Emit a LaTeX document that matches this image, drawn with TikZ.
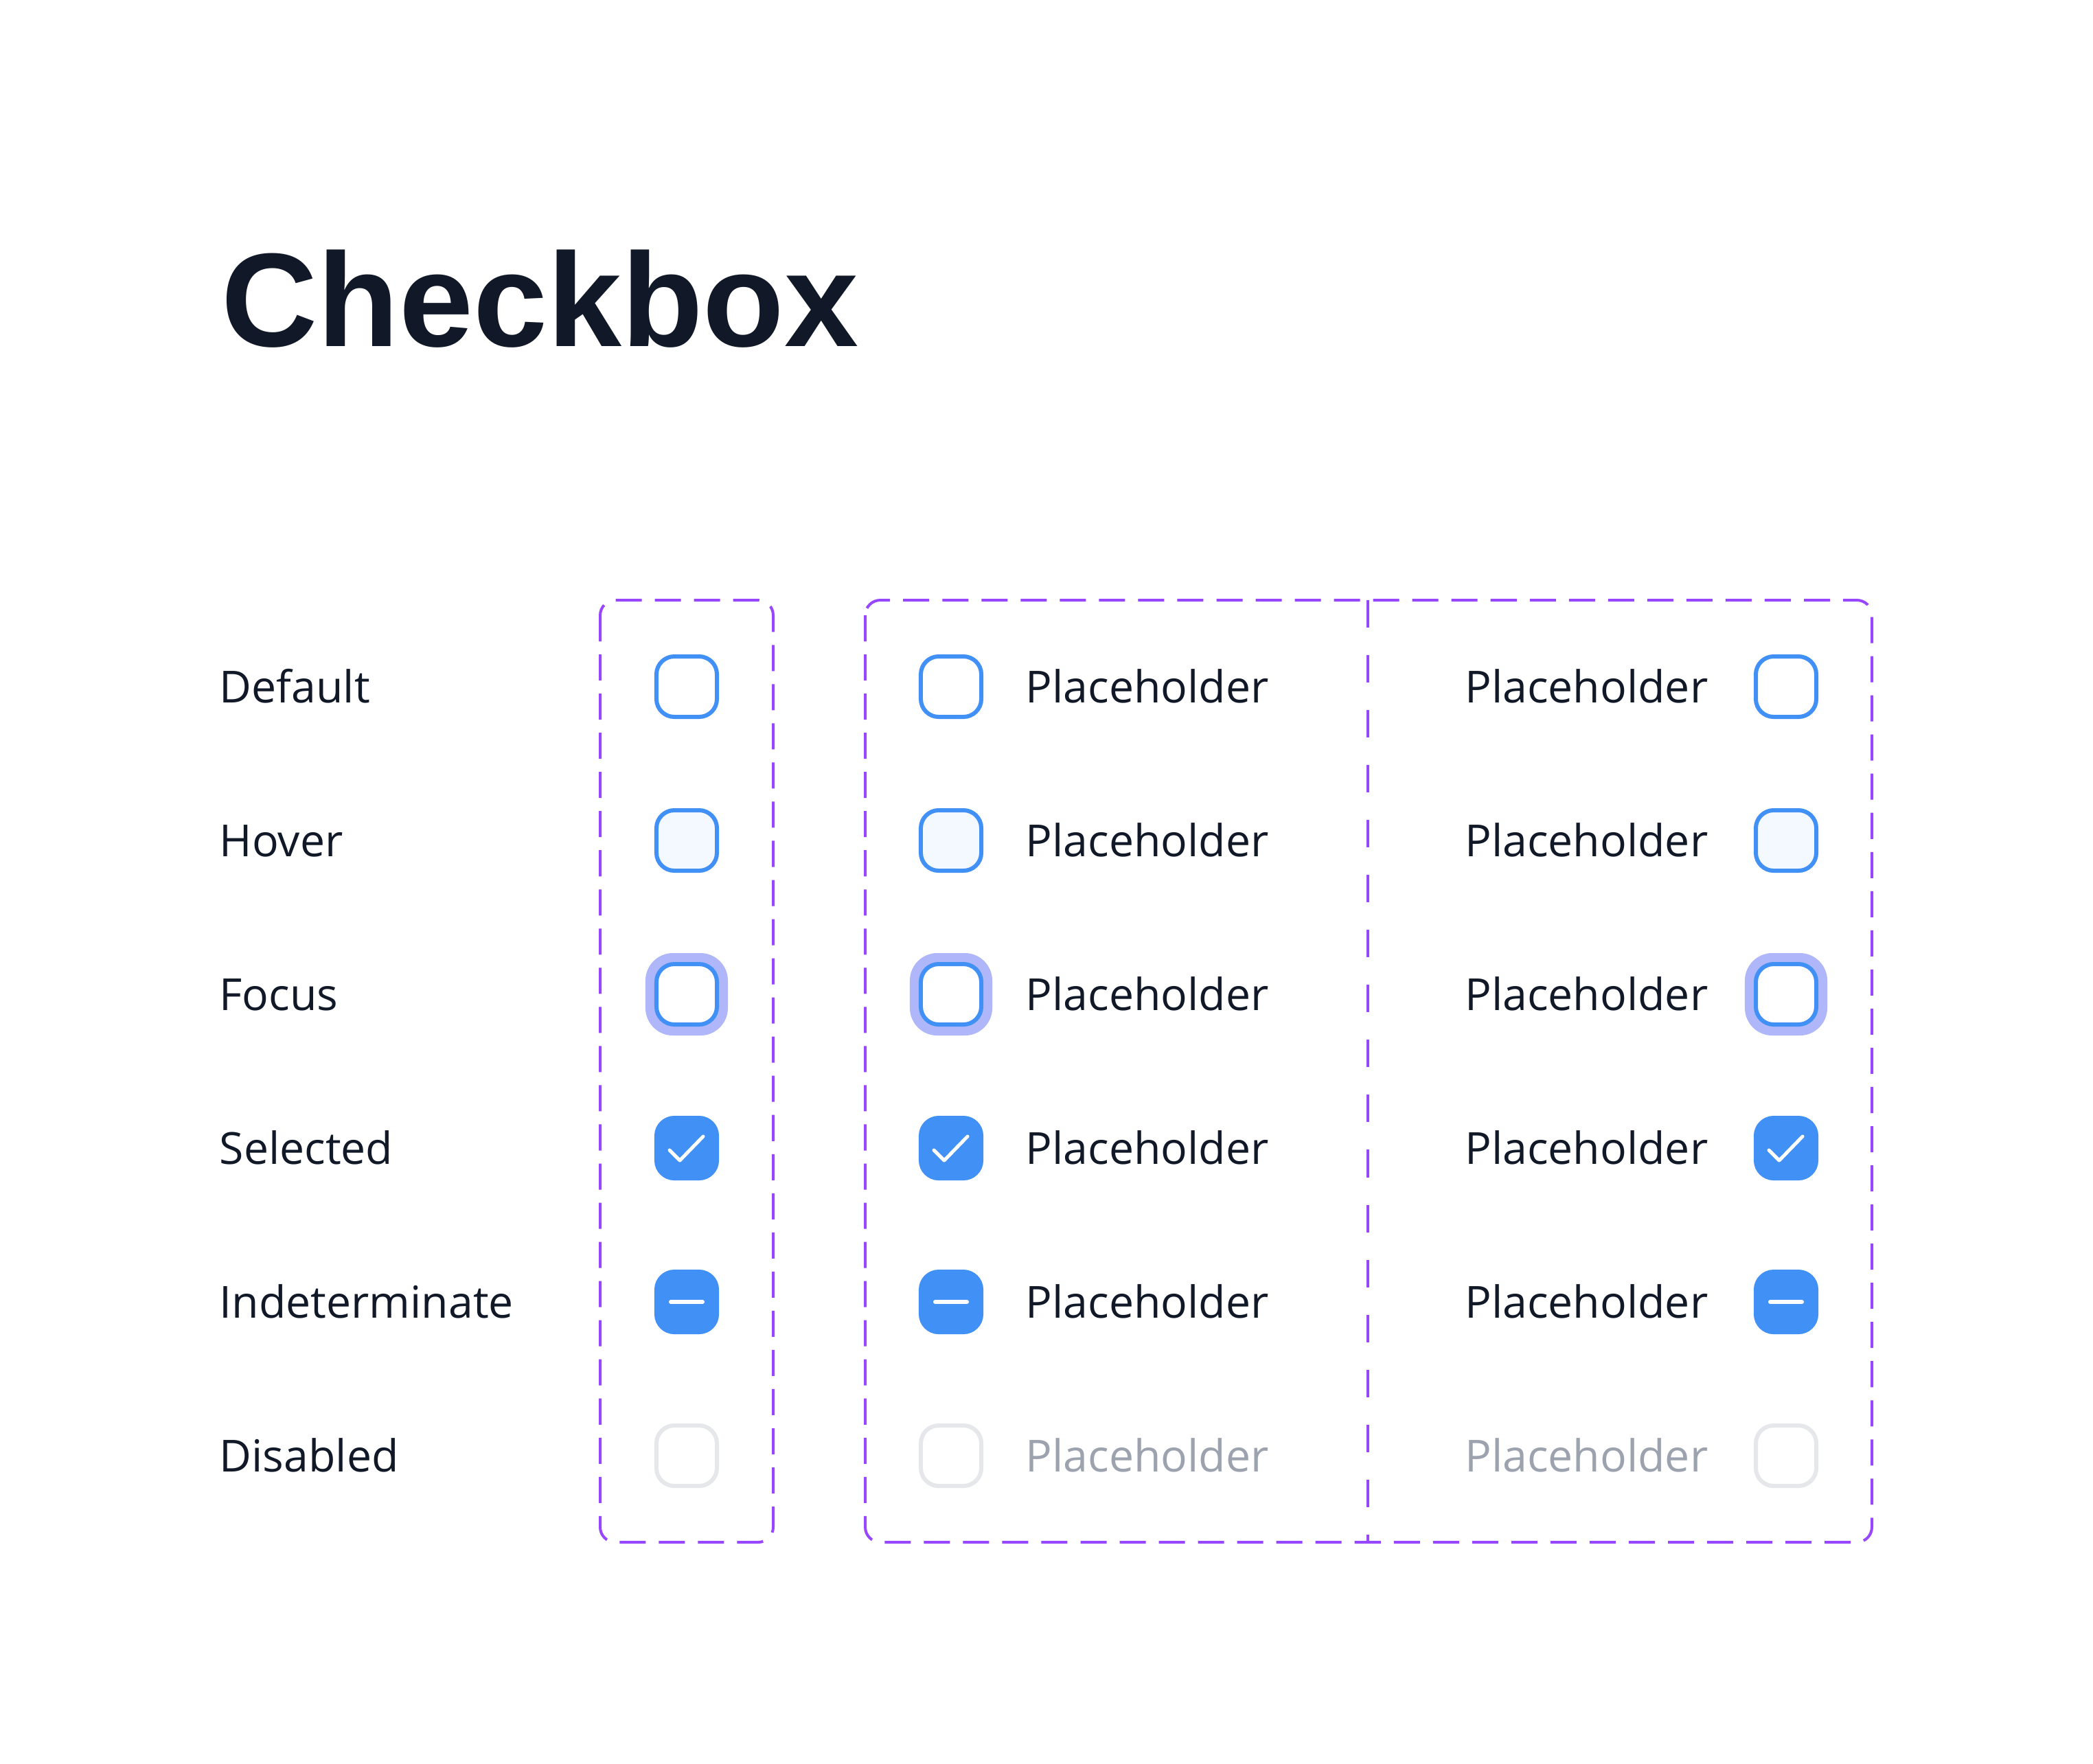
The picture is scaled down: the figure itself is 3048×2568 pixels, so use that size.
\documentclass[tikz,border=0pt]{standalone}
\usepackage{fontspec}
\setmainfont{Open Sans}
\newfontfamily\titlefamily{Liberation Sans}
\usepackage{tikz}
\usetikzlibrary{calc,positioning}
\definecolor{ink}{HTML}{111827}
\definecolor{muted}{HTML}{9CA3AF}
\definecolor{cbblue}{HTML}{4190F5}
\definecolor{hoverbg}{HTML}{F4F8FF}
\definecolor{ringc}{HTML}{AFB7FA}
\definecolor{offgray}{HTML}{E5E7EB}
\definecolor{figma}{HTML}{9747FF}
\tikzset{
  cbox/.style={draw=cbblue, fill=white, line width=0.06cm, minimum size=0.88cm, inner sep=0pt, rounded corners=0.26cm},
  ring/.style={fill=ringc, minimum size=1.20cm, inner sep=0pt, rounded corners=0.40cm},
  markline/.style={draw=white, line width=0.05cm, line cap=round, line join=round},
  frame/.style={draw=figma, line width=0.04cm, dash pattern=on 0.38cm off 0.19cm, rounded corners=0.22cm},
  lab/.style={text=ink, inner sep=0pt, font=\fontsize{18.3pt}{22pt}\selectfont},
}

\begin{document}
\begin{tikzpicture}[x=0.01cm, y=-0.01cm]
\fill[white] (0,0) rectangle (3048,2568);
\useasboundingbox (0,0) rectangle (3048,2568);

% title
\node[anchor=base west, inner sep=0pt, text=ink, font=\titlefamily\bfseries\fontsize{55.2pt}{60pt}\selectfont] (title) at (322,504) {Checkbox};

% frames
\draw[frame] (874,874) rectangle (1126,2246);
\draw[frame] (1260,874) rectangle (2726,2246);
\draw[frame, dash pattern=on 0.40cm off 0.40cm] (1992,874) -- (1992,2246);

% state names
\foreach \y/\t in {1000/Default,1224/Hover,1448/Focus,1672/Selected,1896/Indeterminate,2120/Disabled}
  \node[lab, anchor=base west] (n\y) at (319,\y+23) {\t};

% placeholder texts
\foreach \y in {1000,1224,1448,1672,1896}{
  \node[lab, anchor=base west] (pb\y) at (1493,\y+23) {Placeholder};
  \node[lab, anchor=base east] (pc\y) at (2488,\y+23) {Placeholder};
}
\node[lab, text=muted, anchor=base west] (pb2120) at (1493,2143) {Placeholder};
\node[lab, text=muted, anchor=base east] (pc2120) at (2488,2143) {Placeholder};

% checkboxes
\foreach \cx/\col in {1000/a,1385/b,2601/c}{
  \node[cbox] (\col1) at (\cx,1000) {};
  \node[cbox, fill=hoverbg] (\col2) at (\cx,1224) {};
  \node[ring] (\col3r) at (\cx,1448) {};
  \node[cbox] (\col3) at (\cx,1448) {};
  \node[cbox, fill=cbblue] (\col4) at (\cx,1672) {};
  \draw[markline] ([shift={(-25,3)}]\col4.center) -- ([shift={(-10,18)}]\col4.center) -- ([shift={(24,-17)}]\col4.center);
  \node[cbox, fill=cbblue] (\col5) at (\cx,1896) {};
  \draw[markline, line width=0.06cm] ([xshift=-0.23cm]\col5.center) -- ([xshift=0.23cm]\col5.center);
  \node[cbox, draw=offgray] (\col6) at (\cx,2120) {};
}
\end{tikzpicture}
\end{document}
